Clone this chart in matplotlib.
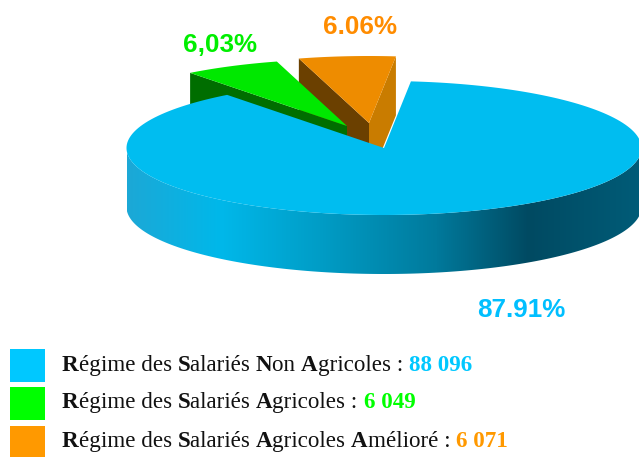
import re
import numpy as np
import matplotlib
matplotlib.use("Agg")
import matplotlib.pyplot as plt
from matplotlib.colors import LinearSegmentedColormap
from matplotlib.patches import Polygon, Rectangle

categories = ["Régime des Salariés Non Agricoles", "Régime des Salariés Agricoles",
              "Régime des Salariés Agricoles Amélioré"]
values = [88096, 6049, 6071]
value_labels = ["88 096", "6 049", "6 071"]
pct_labels = ["87.91%", "6,03%", "6.06%"]

# geometrie du camembert, en pixels de l'image
cx, cy, rx, ry = 384, 148, 257.5, 67
depth = 59
gap_start = 84  # angle ou finit le bleu, sens trigo
offsets = {1: (-37, -22), 2: (-15, -25)}

pct_pos = [(521.5, 310), (220, 45), (360, 26.5)]
pct_colors = ["#00BFFF", "#00EE00", "#FF8C00"]
swatch_colors = ["#00C8FF", "#00FF00", "#FF9900"]
swatch_y = [(349, 382), (387, 420), (426, 457)]
baselines = [371, 408, 447]

fig = plt.figure(figsize=(6.39, 4.57), dpi=100)
ax = fig.add_axes([0, 0, 1, 1])
ax.set_xlim(0, 639)
ax.set_ylim(457, 0)
ax.axis("off")

sweep = 360 * np.array(values) / sum(values)
orange_a = (gap_start, gap_start + sweep[2])
green_a = (orange_a[1], orange_a[1] + sweep[1])
blue_a = (green_a[1], gap_start + 360)


def pt(a, x0, y0):
    a = np.radians(a)
    return np.column_stack([x0 + rx * np.cos(a), y0 - ry * np.sin(a)])


def slice_top(a, x0, y0):
    arc = pt(np.linspace(a[0], a[1], 200), x0, y0)
    return np.vstack([[x0, y0], arc])


def face(a, x0, y0):
    p = pt(np.array([a]), x0, y0)[0]
    return [(x0, y0), tuple(p), (p[0], p[1] + depth), (x0, y0 + depth)]


# tranche orange
ox, oy = cx + offsets[2][0], cy + offsets[2][1]
ax.add_patch(Polygon(face(orange_a[1], ox, oy), fc="#6B4000", ec="none", zorder=1))
ax.add_patch(Polygon(face(orange_a[0], ox, oy), fc="#C97C00", ec="none", zorder=1))
ax.add_patch(Polygon(slice_top(orange_a, ox, oy), fc="#EE8C00", ec="none", zorder=1.1))

# tranche verte
gx, gy = cx + offsets[1][0], cy + offsets[1][1]
ax.add_patch(Polygon(face(green_a[1], gx, gy), fc="#006E00", ec="none", zorder=2))
ax.add_patch(Polygon(slice_top(green_a, gx, gy), fc="#00E800", ec="none", zorder=2.1))

# cote du bleu avec degrade
side_angles = np.linspace(180, 360, 200)
side_top = pt(side_angles, cx, cy)
side_bot = side_top + [0, depth]
side = Polygon(np.vstack([side_top, side_bot[::-1]]), fc="none", ec="none", transform=ax.transData)
ax.add_patch(side)
cmap = LinearSegmentedColormap.from_list("cote", [
    (0.0, "#1CA8D6"), (0.18, "#00B8EA"), (0.38, "#009CC5"), (0.60, "#007A9C"),
    (0.78, "#004A62"), (1.0, "#005C78")])
grad = ax.imshow(np.linspace(0, 1, 512)[None, :], cmap=cmap, aspect="auto",
                 extent=(cx - rx, cx + rx, cy + ry + depth, cy - ry), zorder=3)
grad.set_clip_path(side)
ax.set_xlim(0, 639)
ax.set_ylim(457, 0)

ax.add_patch(Polygon(slice_top(blue_a, cx, cy), fc="#00BDF0", ec="none", zorder=4))

for lab, (x, y), c in zip(pct_labels, pct_pos, pct_colors):
    ax.text(x, y, lab, color=c, fontsize=18.7, fontweight="bold", family="Liberation Sans",
            ha="center", va="center", zorder=5)

# legende : majuscules en gras, puis la valeur en couleur
renderer = fig.canvas.get_renderer()
legend_size = 16.6


def run_width(s, weight):
    # les barres evitent de perdre les espaces en bordure
    t = ax.text(0, 0, "|" + s + "|", fontsize=legend_size, family="Liberation Serif", fontweight=weight)
    b = ax.text(0, 0, "||", fontsize=legend_size, family="Liberation Serif", fontweight=weight)
    w = t.get_window_extent(renderer).width - b.get_window_extent(renderer).width
    t.remove()
    b.remove()
    return w


for i, (cat, val) in enumerate(zip(categories, value_labels)):
    y0, y1 = swatch_y[i]
    ax.add_patch(Rectangle((10, y0), 35, y1 - y0, fc=swatch_colors[i], ec="none"))
    x = 62
    runs = []
    for piece in re.findall(r"[A-Z]|[^A-Z]+", cat + " : "):
        runs.append((piece, "bold" if piece.isupper() else "normal", "#111111"))
    runs.append((val, "bold", swatch_colors[i]))
    for s, w, c in runs:
        ax.text(x, baselines[i], s, fontsize=legend_size, family="Liberation Serif", fontweight=w,
                color=c, va="baseline", ha="left")
        x += run_width(s, w)

fig.savefig("out.png", dpi=100)
